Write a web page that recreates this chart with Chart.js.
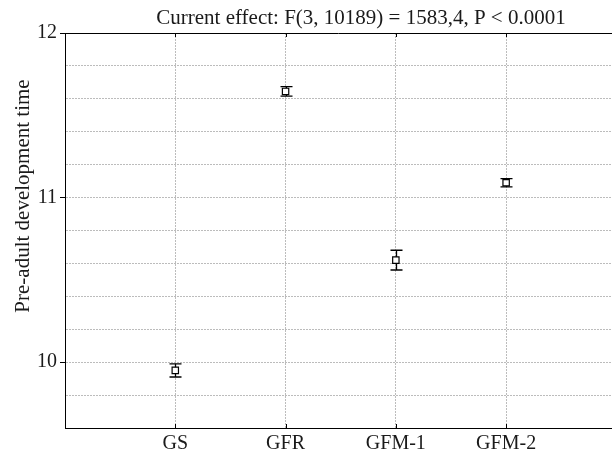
<!DOCTYPE html>
<html>
<head>
<meta charset="utf-8">
<script src="https://cdn.jsdelivr.net/npm/chart.js@4.4.1/dist/chart.umd.min.js"></script>
<style>
html, body { margin: 0; padding: 0; background: #fff; overflow: hidden; }
canvas { display: block; }
</style>
</head>
<body>
<canvas id="chart" width="612" height="453"></canvas>
<script>
var groups = ['GS', 'GFR', 'GFM-1', 'GFM-2'];
var means = [9.95, 11.645, 10.62, 11.09];
var errLow = [9.91, 11.617, 10.56, 11.065];
var errHigh = [9.99, 11.674, 10.68, 11.115];
var titleText = 'Current effect: F(3, 10189) = 1583,4, P < 0.0001';
var yTitle = 'Pre-adult development time';

var serif = '"Liberation Serif", "DejaVu Serif", serif';
var gridGrey = '#bcbcbc';

var points = groups.map(function(g, i) { return { x: i + 1, y: means[i] }; });

// whiskers, drawn under the squares
var errorBars = {
    id: 'errorBars',
    beforeDatasetsDraw: function(chart) {
        var ctx = chart.ctx, xs = chart.scales.x, ys = chart.scales.y;
        ctx.save();
        ctx.strokeStyle = '#000';
        ctx.lineWidth = 1.3;
        for (var i = 0; i < groups.length; i++) {
            var px = Math.round(xs.getPixelForValue(i + 1)) + 0.5;
            var top = ys.getPixelForValue(errHigh[i]);
            var bot = ys.getPixelForValue(errLow[i]);
            ctx.beginPath();
            ctx.moveTo(px, top); ctx.lineTo(px, bot);
            ctx.moveTo(px - 6, top); ctx.lineTo(px + 6, top);
            ctx.moveTo(px - 6, bot); ctx.lineTo(px + 6, bot);
            ctx.stroke();
        }
        ctx.restore();
    }
};

// top line, inner ticks and the titles
var frame = {
    id: 'frame',
    afterDraw: function(chart) {
        var ctx = chart.ctx, a = chart.chartArea, xs = chart.scales.x;
        ctx.save();
        ctx.strokeStyle = '#000';
        ctx.lineWidth = 1;
        ctx.beginPath();
        ctx.moveTo(a.left, a.top + 0.5); ctx.lineTo(a.right, a.top + 0.5);
        for (var i = 0; i < groups.length; i++) {
            var px = Math.round(xs.getPixelForValue(i + 1)) + 0.5;
            ctx.moveTo(px, a.top); ctx.lineTo(px, a.top + 4);
            ctx.moveTo(px, a.bottom); ctx.lineTo(px, a.bottom - 4);
        }
        ctx.stroke();

        ctx.fillStyle = '#1a1a1a';
        ctx.font = '21px ' + serif;
        ctx.textAlign = 'center';
        ctx.textBaseline = 'alphabetic';
        ctx.fillText(titleText, 361, 24);

        ctx.translate(29, 196);
        ctx.rotate(-Math.PI / 2);
        ctx.fillText(yTitle, 0, 0);
        ctx.restore();
    }
};

new Chart(document.getElementById('chart'), {
    type: 'scatter',
    data: {
        datasets: [{
            data: points,
            pointStyle: 'rect',
            pointRadius: 4.5,
            pointHoverRadius: 4.5,
            backgroundColor: '#fff',
            borderColor: '#000',
            borderWidth: 1.2
        }]
    },
    options: {
        responsive: false,
        animation: false,
        layout: { autoPadding: false, padding: { top: 33, right: 0, left: 0, bottom: 0 } },
        plugins: {
            legend: { display: false },
            title: { display: false },
            tooltip: { enabled: false }
        },
        scales: {
            x: {
                type: 'linear',
                min: 0,
                max: 4.96,
                afterBuildTicks: function(scale) {
                    scale.ticks = groups.map(function(g, i) { return { value: i + 1 }; });
                },
                afterFit: function(scale) {
                    scale.height = 25;
                    scale.paddingLeft = 0;
                    scale.paddingRight = 0;
                },
                grid: { color: gridGrey, drawTicks: false },
                border: { color: '#000', width: 1, dash: [2, 1] },
                ticks: {
                    padding: 4,
                    autoSkip: false,
                    maxRotation: 0,
                    color: '#1a1a1a',
                    font: { family: serif, size: 20 },
                    callback: function(v) { return groups[v - 1] || ''; }
                }
            },
            y: {
                min: 9.6,
                max: 12,
                afterFit: function(scale) { scale.width = 65; },
                grid: {
                    color: gridGrey,
                    tickLength: 5,
                    tickColor: function(c) {
                        var v = c.tick ? c.tick.value : 0;
                        return Math.abs(v - Math.round(v)) < 1e-6 ? '#000' : 'rgba(0,0,0,0)';
                    }
                },
                border: { color: '#000', width: 1, dash: [2, 1] },
                ticks: {
                    stepSize: 0.2,
                    padding: 3,
                    color: '#1a1a1a',
                    font: { family: serif, size: 20 },
                    callback: function(v) {
                        return Math.abs(v - Math.round(v)) < 1e-6 ? String(Math.round(v)) : '';
                    }
                }
            }
        }
    },
    plugins: [errorBars, frame]
});
</script>
</body>
</html>
